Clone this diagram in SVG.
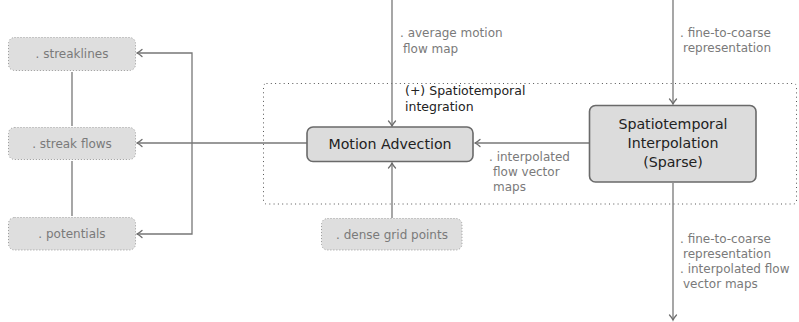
<svg xmlns="http://www.w3.org/2000/svg" width="799" height="322" viewBox="0 0 799 322">
<defs>
<marker id="arr" markerUnits="userSpaceOnUse" markerWidth="12" markerHeight="12" viewBox="-8 -6 10 12" refX="0" refY="0" orient="auto">
<path d="M -5 -3.5 Q -2 -0.8 0 0 Q -2 0.8 -5 3.5" fill="none" stroke="#6e6e6e" stroke-width="1.3" stroke-linecap="round"/>
</marker>
</defs>
<style>
text{font-family:"DejaVu Sans","Liberation Sans",sans-serif}
.main rect{fill:#dcdcdc;stroke:#6a6a6a;stroke-width:1.6}
.main text{font-size:14.2px;fill:#222;text-anchor:middle}
.aux rect{fill:#dedede;stroke:#9a9a9a;stroke-width:1;stroke-dasharray:1 2}
.aux text{font-size:12px;fill:#7a7a7a;text-anchor:middle}
.lbl{font-size:12px;fill:#7a7a7a}
.note{font-size:12.5px;fill:#222}
.conn path{fill:none;stroke:#777;stroke-width:1.3}
</style>
<rect x="263.5" y="83.5" width="533" height="120.5" rx="3" fill="none" stroke="#555" stroke-width="1" stroke-dasharray="1 3.3"/>
<g class="conn">
<path d="M392 0 V126" marker-end="url(#arr)"/>
<path d="M673 0 V104" marker-end="url(#arr)"/>
<path d="M673 183 V320" marker-end="url(#arr)"/>
<path d="M392 218 V163" marker-end="url(#arr)"/>
<path d="M589 143 H475" marker-end="url(#arr)"/>
<path d="M307 143 H137" marker-end="url(#arr)"/>
<path d="M192 143 V53 H137" marker-end="url(#arr)"/>
<path d="M192 143 V234 H137" marker-end="url(#arr)"/>
<path d="M72 72 V126"/>
<path d="M72 161 V216"/>
</g>
<g id="motion-advection" class="main">
<rect x="307" y="127" width="166" height="34.5" rx="6"/>
<text x="390" y="149">Motion Advection</text>
</g>
<g id="spatiotemporal-interpolation" class="main">
<rect x="589.5" y="105.5" width="166.5" height="76.5" rx="6"/>
<text x="673" y="129">Spatiotemporal</text>
<text x="673" y="148">Interpolation</text>
<text x="673" y="167">(Sparse)</text>
</g>
<g id="streaklines" class="aux">
<rect x="8.5" y="37.5" width="127" height="33" rx="6"/>
<text x="72" y="58">. streaklines</text>
</g>
<g id="streak-flows" class="aux">
<rect x="8.5" y="127.5" width="127" height="32" rx="6"/>
<text x="72" y="148">. streak flows</text>
</g>
<g id="potentials" class="aux">
<rect x="8.5" y="217.5" width="127" height="32.5" rx="6"/>
<text x="72" y="238">. potentials</text>
</g>
<g id="dense-grid-points" class="aux">
<rect x="321.5" y="218.5" width="140.5" height="31.5" rx="6"/>
<text x="392" y="239">. dense grid points</text>
</g>
<g id="labels">
<text class="lbl" x="400" y="37">. average motion</text>
<text class="lbl" x="403" y="53">flow map</text>
<text class="lbl" x="680" y="37">. fine-to-coarse</text>
<text class="lbl" x="683" y="52">representation</text>
<text class="note" x="405" y="95">(+) Spatiotemporal</text>
<text class="note" x="405" y="111">integration</text>
<text class="lbl" x="489" y="161">. interpolated</text>
<text class="lbl" x="493" y="176">flow vector</text>
<text class="lbl" x="493" y="191">maps</text>
<text class="lbl" x="680" y="243">. fine-to-coarse</text>
<text class="lbl" x="683" y="258">representation</text>
<text class="lbl" x="680" y="273">. interpolated flow</text>
<text class="lbl" x="683" y="288">vector maps</text>
</g>
</svg>
